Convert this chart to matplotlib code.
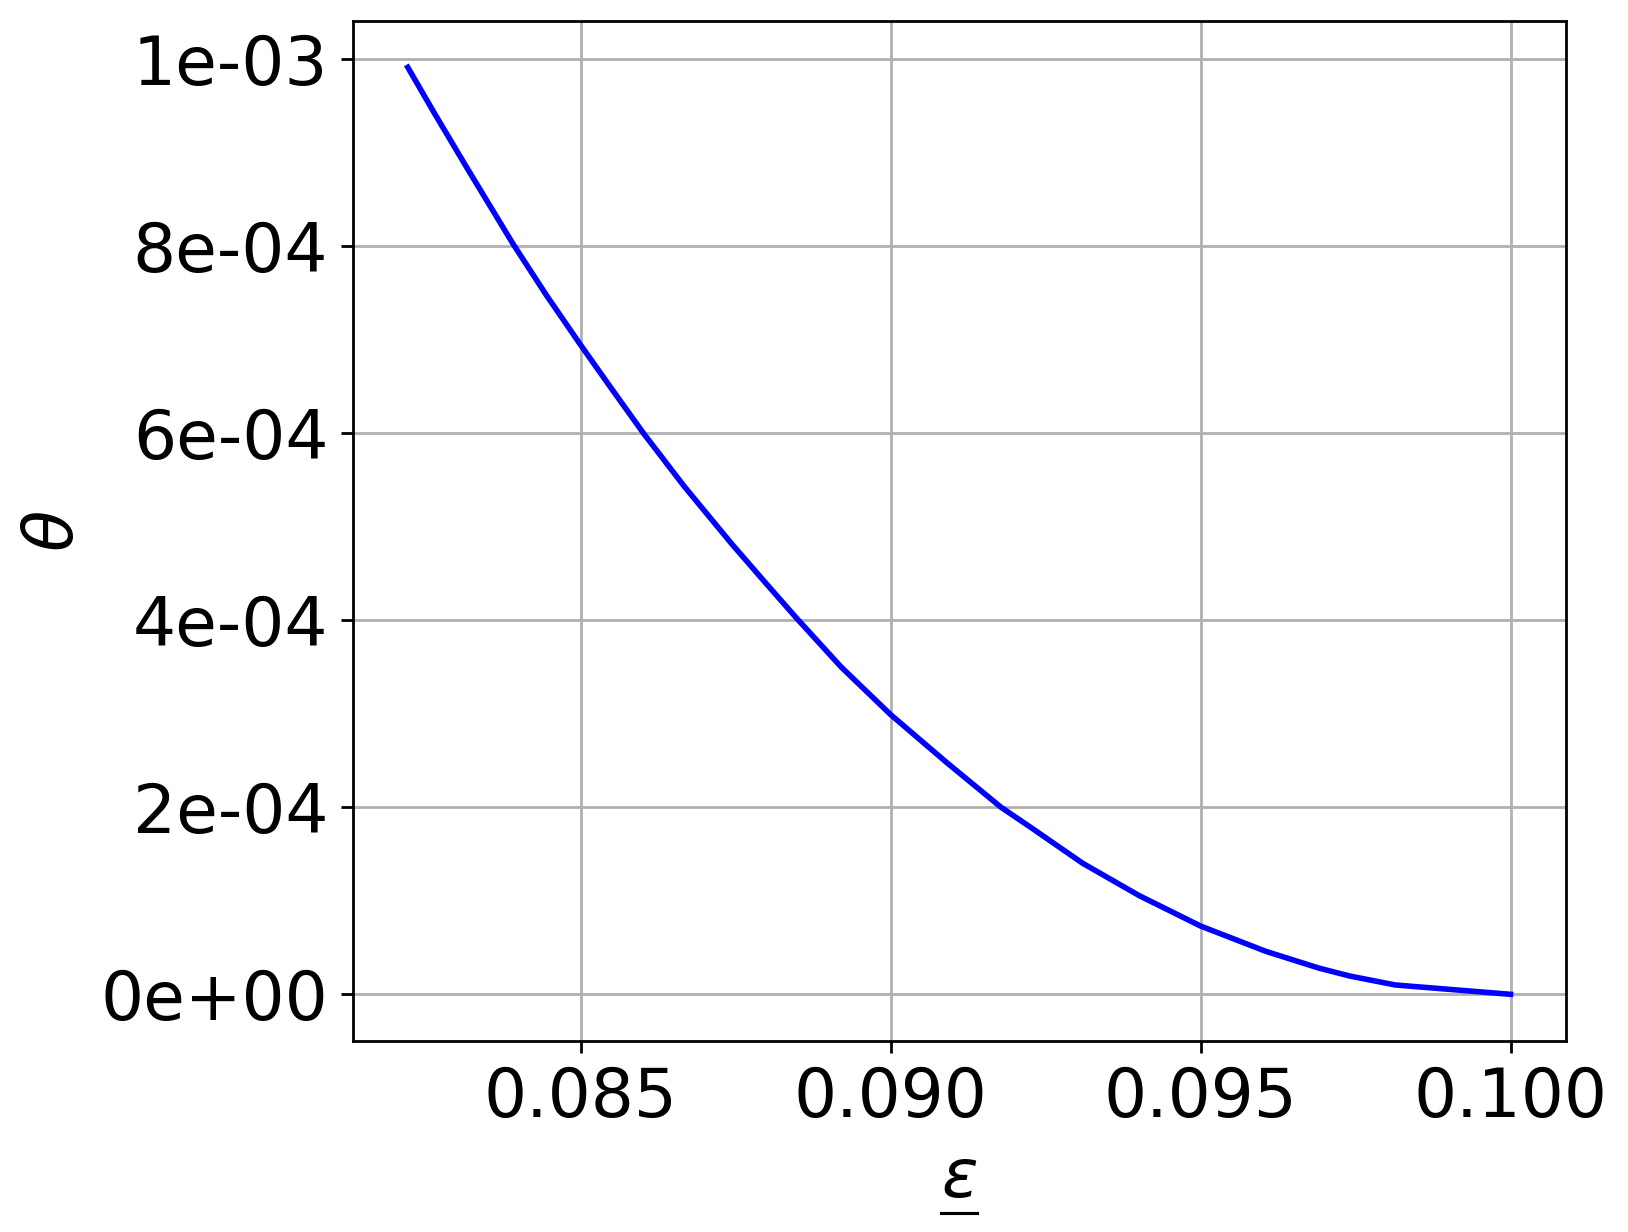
import matplotlib
matplotlib.use("Agg")
import matplotlib.pyplot as plt
from matplotlib.lines import Line2D
from matplotlib.ticker import FormatStrFormatter

# values
eps = [0.08221, 0.08263, 0.08316, 0.08391, 0.08445, 0.08500, 0.08547,
       0.08601, 0.08667, 0.08743, 0.08798, 0.08847, 0.08920, 0.09000,
       0.09090, 0.09178, 0.09227, 0.09310, 0.09401, 0.09500, 0.09605,
       0.09691, 0.09741, 0.09814, 0.10000]
theta = [9.91e-4, 9.43e-4, 8.84e-4, 8.02e-4, 7.47e-4, 6.94e-4, 6.50e-4,
         6.00e-4, 5.43e-4, 4.82e-4, 4.40e-4, 4.03e-4, 3.50e-4, 2.99e-4,
         2.48e-4, 2.00e-4, 1.78e-4, 1.40e-4, 1.055e-4, 7.3e-5, 4.6e-5,
         2.8e-5, 1.95e-5, 1.0e-5, 0.0]

xticks = [0.085, 0.090, 0.095, 0.100]
yticks = [0, 2e-4, 4e-4, 6e-4, 8e-4, 1e-3]

fs = 19.5
DPI = 250

fig = plt.figure(figsize=(1628 / DPI, 1232 / DPI), dpi=DPI)
ax = fig.add_axes([0.2166, 0.1553, 0.7451, 0.8277])

ax.plot(eps, theta, color='blue', lw=1.6)

ax.set_xticks(xticks)
ax.set_yticks(yticks)
ax.yaxis.set_major_formatter(FormatStrFormatter('%.0e'))
ax.xaxis.set_major_formatter(FormatStrFormatter('%.3f'))
ax.tick_params(labelsize=fs)
ax.grid(True)

xl = ax.set_xlabel(r'$\varepsilon$', fontsize=fs)
ax.set_ylabel(r'$\theta$', fontsize=fs)

# mathtext has no \underline, so put a short bar under the label
fig.canvas.draw()
bb = xl.get_window_extent()
W, H = fig.bbox.width, fig.bbox.height
cx = (bb.x0 + bb.x1) / 2
y = bb.y0 - 2
fig.add_artist(Line2D([(cx - 18) / W, (cx + 18) / W], [y / H, y / H],
                      transform=fig.transFigure, color='black', lw=0.9))

fig.savefig('out.png', dpi=DPI)
